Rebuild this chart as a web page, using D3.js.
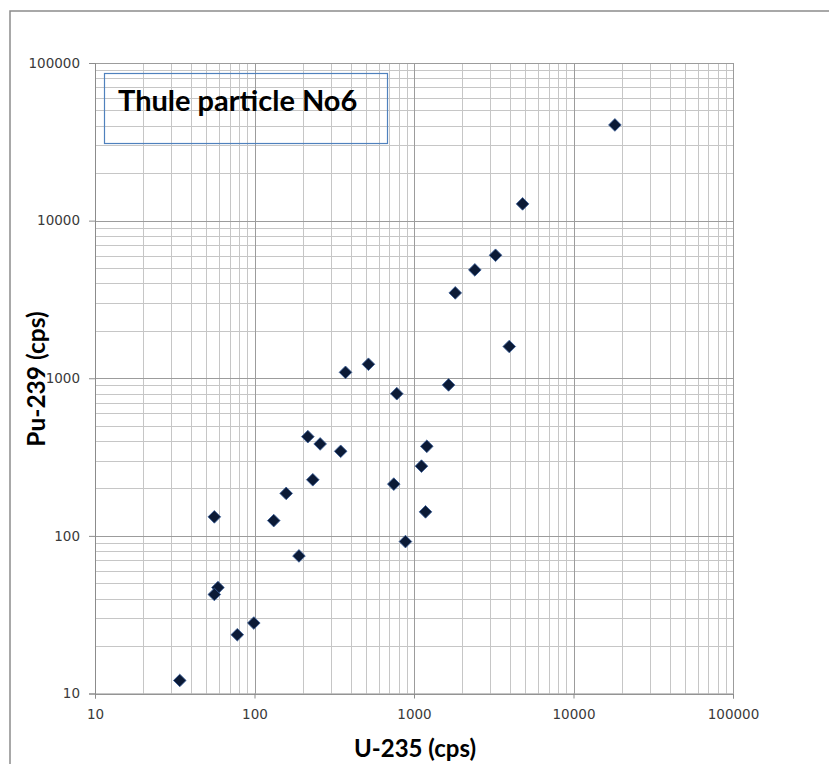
<!DOCTYPE html>
<html>
<head>
<meta charset="utf-8">
<script src="https://cdn.jsdelivr.net/npm/d3@7"></script>
<style>
  body { margin: 0; background: #fff; }
  svg { display: block; }
</style>
</head>
<body>
<svg width="829" height="764"></svg>
<script>
// U-235 counts (x) and Pu-239 counts (y)
let u235 = [34, 59, 56, 56, 78, 99, 132, 158, 190, 216, 232, 258, 347, 372,
  518, 747, 780, 884, 1114, 1181, 1203, 1647, 1814, 2407, 3245, 3956, 4794, 18180];
let pu239 = [12.1, 47, 42.5, 132, 23.6, 28, 125, 186, 74.6, 426, 227, 383, 344, 1090,
  1227, 213, 798, 92, 277, 142, 370, 907, 3480, 4870, 6030, 1590, 12770, 40460];
let decades = [10, 100, 1000, 10000, 100000];
let title = "Thule particle No6";

let points = u235.map((u, i) => ({u: u, pu: pu239[i]}));

let svg = d3.select("svg");

// outer frame (only top and left edge are visible)
svg.append("path")
  .attr("d", "M10,764 V11 H829")
  .attr("fill", "none")
  .attr("stroke", "#8c8c8c")
  .attr("stroke-width", 1.5);

let plot = {left: 95, top: 63, right: 733, bottom: 693.5};

let x = d3.scaleLog().domain([10, 100000]).range([plot.left, plot.right]);
let y = d3.scaleLog().domain([10, 100000]).range([plot.bottom, plot.top]);

// minor grid: 2..9 in each decade
let minor = [];
decades.slice(0, -1).forEach(d => {
  for (let k = 2; k <= 9; k++) minor.push(d * k);
});

let grid = svg.append("g");
grid.selectAll(".vminor").data(minor).enter().append("line")
  .attr("x1", d => Math.round(x(d)) + 0.5).attr("x2", d => Math.round(x(d)) + 0.5)
  .attr("y1", plot.top).attr("y2", plot.bottom)
  .attr("stroke", "#c6c6c6");
grid.selectAll(".hminor").data(minor).enter().append("line")
  .attr("y1", d => Math.round(y(d)) + 0.5).attr("y2", d => Math.round(y(d)) + 0.5)
  .attr("x1", plot.left).attr("x2", plot.right)
  .attr("stroke", "#c6c6c6");
grid.selectAll(".vmajor").data(decades).enter().append("line")
  .attr("x1", d => Math.round(x(d)) + 0.5).attr("x2", d => Math.round(x(d)) + 0.5)
  .attr("y1", plot.top).attr("y2", plot.bottom)
  .attr("stroke", "#9c9c9c");
grid.selectAll(".hmajor").data(decades).enter().append("line")
  .attr("y1", d => Math.round(y(d)) + 0.5).attr("y2", d => Math.round(y(d)) + 0.5)
  .attr("x1", plot.left).attr("x2", plot.right)
  .attr("stroke", "#9c9c9c");

// axes
let xAxis = d3.axisBottom(x).tickValues(decades).tickFormat(d3.format("d")).tickSize(5).tickPadding(11);
let yAxis = d3.axisLeft(y).tickValues(decades).tickFormat(d3.format("d")).tickSize(6).tickPadding(9);

function styleAxis(g) {
  g.select(".domain").attr("stroke", "#8c8c8c");
  g.selectAll(".tick line").attr("stroke", "#8c8c8c");
  g.selectAll(".tick text")
    .style("font-family", "'DejaVu Sans', sans-serif")
    .style("font-size", "13.5px")
    .style("fill", "#3a3a3a");
}

svg.append("g")
  .attr("transform", "translate(0," + plot.bottom + ")")
  .call(xAxis)
  .call(styleAxis);

svg.append("g")
  .attr("transform", "translate(" + plot.left + ",0)")
  .call(yAxis)
  .call(styleAxis);

// title box
svg.append("rect")
  .attr("x", 104.5).attr("y", 73.5)
  .attr("width", 283).attr("height", 70)
  .attr("fill", "none")
  .attr("stroke", "#4f81bd")
  .attr("stroke-width", 1.2);
svg.append("text")
  .attr("x", 118).attr("y", 111)
  .style("font-family", "Lato, sans-serif")
  .style("font-weight", "bold")
  .style("font-size", "29px")
  .style("fill", "#000")
  .text(title);

// axis labels
svg.append("text")
  .attr("transform", "translate(45,379) rotate(-90)")
  .attr("text-anchor", "middle")
  .style("font-family", "Lato, sans-serif")
  .style("font-weight", "bold")
  .style("font-size", "24.5px")
  .text("Pu-239 (cps)");
svg.append("text")
  .attr("x", 415).attr("y", 757)
  .attr("text-anchor", "middle")
  .style("font-family", "Lato, sans-serif")
  .style("font-weight", "bold")
  .style("font-size", "24px")
  .text("U-235 (cps)");

// points
let diamond = d3.symbol().type(d3.symbolSquare).size(80);
svg.selectAll(".point")
  .data(points)
  .enter().append("path")
  .attr("class", "point")
  .attr("d", diamond)
  .attr("transform", d => "translate(" + x(d.u) + "," + y(d.pu) + ") rotate(45)")
  .style("fill", "#0b1a36")
  .style("stroke", "#3a5f9a")
  .style("stroke-width", 0.8);
</script>
</body>
</html>
